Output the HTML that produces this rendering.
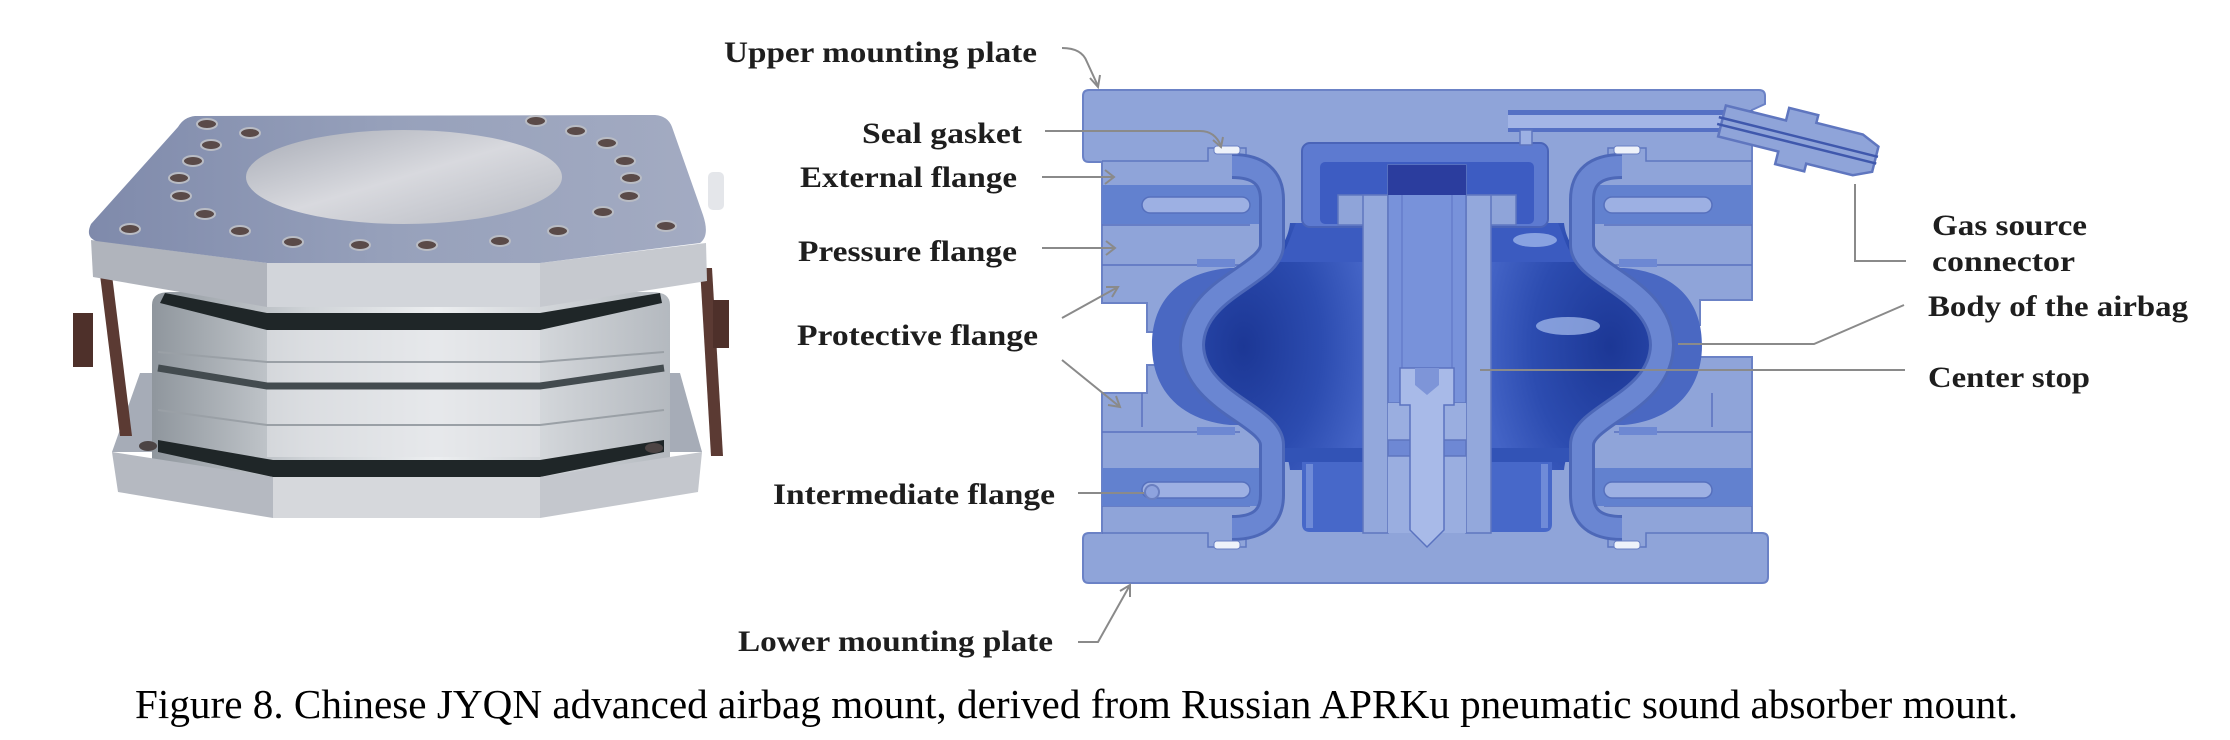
<!DOCTYPE html>
<html><head><meta charset="utf-8">
<style>
html,body{margin:0;padding:0;background:#fff;}
body{width:2230px;height:740px;overflow:hidden;}
svg{display:block;}
</style></head><body>
<svg width="2230" height="740" viewBox="0 0 2230 740" xmlns="http://www.w3.org/2000/svg">
<defs>
  <linearGradient id="topFace" x1="0" y1="0" x2="1" y2="0">
    <stop offset="0" stop-color="#7f8aab"/>
    <stop offset="0.5" stop-color="#97a1bb"/>
    <stop offset="1" stop-color="#a3abc2"/>
  </linearGradient>
  <linearGradient id="disc" x1="0" y1="0" x2="1" y2="1">
    <stop offset="0" stop-color="#a8acb6"/>
    <stop offset="0.5" stop-color="#d8d9de"/>
    <stop offset="1" stop-color="#b7bac2"/>
  </linearGradient>
  <linearGradient id="ring" x1="0" y1="0" x2="1" y2="0">
    <stop offset="0" stop-color="#8f969d"/>
    <stop offset="0.3" stop-color="#cfd3d7"/>
    <stop offset="0.55" stop-color="#eceef0"/>
    <stop offset="1" stop-color="#b4b9bf"/>
  </linearGradient>
  <radialGradient id="bag" cx="0.25" cy="0.5" r="0.8">
    <stop offset="0" stop-color="#1c3795"/>
    <stop offset="0.6" stop-color="#2c4cb0"/>
    <stop offset="1" stop-color="#4464c6"/>
  </radialGradient>
</defs>

<!-- ================= PHOTO ================= -->
<polygon points="140,373 680,373 702,452 112,452" fill="#a6acb7"/>
<path d="M152,305 Q152,292 170,292 H652 Q670,292 670,305 V462 Q670,478 652,478 H170 Q152,478 152,462 Z" fill="url(#ring)"/>
<polygon points="267,330 540,330 540,457 267,457" fill="#e3e5e8" opacity="0.6"/>
<polygon points="165,293 267,313 540,313 660,293 662,303 540,330 267,330 160,303" fill="#1f2628"/>
<polyline points="158,352 267,362 540,362 664,352" stroke="#9aa0a6" stroke-width="2" fill="none"/>
<polyline points="158,368 267,386 540,386 664,368" stroke="#434b4f" stroke-width="7" fill="none"/>
<polyline points="158,410 267,425 540,425 664,410" stroke="#9aa0a6" stroke-width="2" fill="none"/>
<polygon points="158,440 273,460 540,460 664,440 664,452 540,477 273,477 158,452" fill="#1f2628"/>
<polygon points="112,452 273,477 273,518 118,492" fill="#b5b9c1"/>
<polygon points="273,477 540,477 540,518 273,518" fill="#d6d8dc"/>
<polygon points="540,477 702,452 698,492 540,518" fill="#c4c7cd"/>
<ellipse cx="148" cy="446" rx="9" ry="5" fill="#4c4444"/>
<ellipse cx="654" cy="448" rx="9" ry="5" fill="#4c4444"/>
<polygon points="100,275 112,275 132,436 120,436" fill="#5b3a33"/>
<rect x="73" y="313" width="20" height="54" fill="#4e302a"/>
<polygon points="700,268 712,268 723,456 711,456" fill="#5b3a33"/>
<rect x="713" y="300" width="16" height="48" fill="#4e302a"/>
<polygon points="91,240 267,263 267,307 93,277" fill="#b0b4bc"/>
<polygon points="267,263 540,263 540,307 267,307" fill="#d2d5da"/>
<polygon points="540,263 706,243 707,281 540,307" fill="#c6c9cf"/>
<path d="M195,116 L655,115 Q668,116 672,127 L703,215 Q710,236 700,243 L540,263 L267,263 L96,241 Q85,237 91,224 L178,127 Q184,117 195,116 Z" fill="url(#topFace)"/>
<ellipse cx="404" cy="177" rx="158" ry="47" fill="url(#disc)"/>
<g fill="#5a4a48" stroke="#b9bcc4" stroke-width="2">
  <ellipse cx="211" cy="145" rx="10" ry="5"/><ellipse cx="193" cy="161" rx="10" ry="5"/>
  <ellipse cx="179" cy="178" rx="10" ry="5"/><ellipse cx="181" cy="196" rx="10" ry="5"/>
  <ellipse cx="205" cy="214" rx="10" ry="5"/><ellipse cx="240" cy="231" rx="10" ry="5"/>
  <ellipse cx="130" cy="229" rx="10" ry="5"/><ellipse cx="293" cy="242" rx="10" ry="5"/>
  <ellipse cx="360" cy="245" rx="10" ry="5"/><ellipse cx="427" cy="245" rx="10" ry="5"/>
  <ellipse cx="500" cy="241" rx="10" ry="5"/><ellipse cx="558" cy="231" rx="10" ry="5"/>
  <ellipse cx="603" cy="212" rx="10" ry="5"/><ellipse cx="629" cy="196" rx="10" ry="5"/>
  <ellipse cx="631" cy="178" rx="10" ry="5"/><ellipse cx="625" cy="161" rx="10" ry="5"/>
  <ellipse cx="607" cy="143" rx="10" ry="5"/><ellipse cx="576" cy="131" rx="10" ry="5"/>
  <ellipse cx="536" cy="121" rx="10" ry="5"/><ellipse cx="207" cy="124" rx="10" ry="5"/>
  <ellipse cx="250" cy="133" rx="10" ry="5"/><ellipse cx="666" cy="226" rx="10" ry="5"/>
</g>
<rect x="708" y="172" width="16" height="38" rx="5" fill="#e4e6ea"/>

<!-- ================= DIAGRAM ================= -->
<path d="M1089,90 H1759 Q1765,90 1765,96 V104 L1752,110 V300 H1700 V325 H1680 V357 H1752 V533 H1762 Q1768,533 1768,539 V577 Q1768,583 1762,583 H1089 Q1083,583 1083,577 V539 Q1083,533 1089,533 H1102 V393 H1147 V365 H1172 V332 H1147 V303 H1102 V162 H1089 Q1083,162 1083,156 V96 Q1083,90 1089,90 Z" fill="#8fa4d9" stroke="#6b82c6" stroke-width="2"/>

<g stroke="#5f76bf" stroke-width="1.5" fill="none">
  <path d="M1102,161 H1208 V148 H1246 V161 H1262"/>
  <path d="M1592,161 H1608 V148 H1646 V161 H1752"/>
  <path d="M1102,533 H1208 V547 H1246 V533 H1262"/>
  <path d="M1592,533 H1608 V547 H1646 V533 H1752"/>
</g>

<g id="lf">
  <rect x="1102" y="185" width="162" height="39" fill="#6281cf"/>
  <rect x="1142" y="197" width="108" height="16" rx="8" fill="#9db0e3" stroke="#5670bd" stroke-width="1.5"/>
  <path d="M1102,225 H1250 M1102,265 H1240 M1102,432 H1240 M1102,506 H1250" stroke="#5a72bf" stroke-width="1.5"/>
  <rect x="1197" y="259" width="38" height="8" fill="#6d88d3"/>
  <rect x="1197" y="427" width="38" height="8" fill="#6d88d3"/>
  <rect x="1102" y="468" width="162" height="38" fill="#6281cf"/>
  <rect x="1142" y="482" width="108" height="16" rx="8" fill="#9db0e3" stroke="#5670bd" stroke-width="1.5"/>
  <path d="M1142,393 V427" stroke="#5a72bf" stroke-width="1.5"/>
  <path d="M1152,345 C1152,300 1180,272 1230,268 L1260,268 C1240,290 1185,300 1181,345 C1185,390 1240,400 1260,425 L1230,425 C1180,420 1152,390 1152,345 Z" fill="#4a68c2"/>
  <path d="M1290,223 H1365 V470 H1290 C1288,452 1280,440 1262,430 C1225,410 1205,392 1203,345 C1205,298 1225,280 1262,262 C1280,252 1288,240 1290,223 Z" fill="url(#bag)"/>
  <path d="M1296,223 H1365 V262 H1276 C1288,250 1290,236 1296,223 Z" fill="#3b5bc0"/>
  <rect x="1283" y="448" width="82" height="14" fill="#3253b6"/>
  <path d="M1302,462 H1365 V532 H1310 Q1302,532 1302,524 Z" fill="#4768c9"/>
  <rect x="1306" y="464" width="7" height="64" fill="#6f8bd8"/>
  <path d="M1232,166 Q1272,166 1272,200 V245 C1272,275 1193,288 1192,345 C1193,402 1272,415 1272,445 V495 Q1272,528 1232,528" stroke="#4d68b8" stroke-width="26" fill="none"/>
  <path d="M1232,166 Q1272,166 1272,200 V245 C1272,275 1193,288 1192,345 C1193,402 1272,415 1272,445 V495 Q1272,528 1232,528" stroke="#6a86d2" stroke-width="20" fill="none"/>
  <rect x="1214" y="146" width="26" height="8" rx="3" fill="#eef2fa" stroke="#6a80c4"/>
  <rect x="1214" y="541" width="26" height="8" rx="3" fill="#eef2fa" stroke="#6a80c4"/>
</g>
<use href="#lf" transform="matrix(-1 0 0 1 2854 0)"/>

<ellipse cx="1535" cy="240" rx="22" ry="7" fill="#a9c0f0" opacity="0.7"/>
<ellipse cx="1568" cy="326" rx="32" ry="9" fill="#a9c0f0" opacity="0.7"/>

<rect x="1302" y="143" width="246" height="84" rx="8" fill="#5d7ad0" stroke="#4a64b8" stroke-width="2"/>
<rect x="1320" y="162" width="214" height="62" rx="5" fill="#3d5cc2"/>
<rect x="1338" y="195" width="178" height="30" fill="#8fa4d9" stroke="#5f76bf" stroke-width="1.5"/>
<rect x="1363" y="195" width="25" height="338" fill="#93a8dc" stroke="#5f76bf" stroke-width="1.5"/>
<rect x="1466" y="195" width="25" height="338" fill="#93a8dc" stroke="#5f76bf" stroke-width="1.5"/>
<rect x="1388" y="165" width="78" height="238" fill="#7892da" stroke="#5f76bf" stroke-width="1.5"/>
<rect x="1388" y="165" width="78" height="30" fill="#2b3d9e"/>
<path d="M1402,195 V403 M1452,195 V403" stroke="#6a82cf" stroke-width="2"/>
<rect x="1388" y="403" width="78" height="130" fill="#9aaee0"/>
<rect x="1388" y="440" width="78" height="16" fill="#6e88d4" stroke="#5f76bf" stroke-width="1.5"/>
<path d="M1400,368 H1454 V405 H1444 V530 L1427,547 L1410,530 V405 H1400 Z" fill="#a8bae8" stroke="#5a72c0" stroke-width="1.5"/>
<path d="M1415,368 V385 L1427,395 L1439,385 V368 Z" fill="#7e95d8"/>

<rect x="1508" y="110" width="244" height="22" fill="#5570c4"/>
<rect x="1508" y="115" width="244" height="13" fill="#a3b5e6"/>
<rect x="1520" y="130" width="12" height="15" fill="#9cb0e3" stroke="#5f76bf" stroke-width="1.5"/>

<g transform="translate(1722,121) rotate(14)">
  <path d="M0,-16 H62 V-29 H92 V-21 H140 L158,-13 V13 L140,21 H92 V29 H62 V16 H0 Z" fill="#8fa4d9" stroke="#5f76bf" stroke-width="2.5"/>
  <path d="M-4,-3 H160 M-4,4 H160" stroke="#3f58ad" stroke-width="2.5"/>
</g>

<g stroke="#8a8a8a" stroke-width="2" fill="none">
  <path d="M1062,48 Q1082,48 1087,62 L1098,86"/>
  <path d="M1090,78 L1098,87 L1100,75"/>
  <path d="M1045,131 H1200 Q1215,131 1221,146"/>
  <path d="M1213,140 L1221,147 L1223,137"/>
  <path d="M1042,177 H1113 M1105,170 L1114,177 L1105,184"/>
  <path d="M1042,248 H1115 M1106,241 L1115,248 L1106,255"/>
  <path d="M1062,318 L1118,287 M1112,297 L1118,287 L1106,287"/>
  <path d="M1062,360 L1120,407 M1108,405 L1120,407 L1116,396"/>
  <path d="M1078,493 H1145"/>
  <path d="M1078,642 H1098 L1130,585 M1120,591 L1130,585 L1130,597"/>
  <path d="M1904,305 L1814,344 H1678"/>
  <path d="M1905,370 H1480"/>
  <path d="M1855,184 V261 H1906"/>
</g>
<circle cx="1152" cy="492" r="7" fill="#8ea3de" stroke="#6a7fc0" stroke-width="2"/>

<g font-family="'Liberation Serif', serif" font-weight="bold" font-size="30" fill="#1e1e1e">
  <text x="724" y="62" textLength="313" lengthAdjust="spacingAndGlyphs">Upper mounting plate</text>
  <text x="862" y="143" textLength="160" lengthAdjust="spacingAndGlyphs">Seal gasket</text>
  <text x="800" y="187" textLength="217" lengthAdjust="spacingAndGlyphs">External flange</text>
  <text x="798" y="261" textLength="219" lengthAdjust="spacingAndGlyphs">Pressure flange</text>
  <text x="797" y="345" textLength="241" lengthAdjust="spacingAndGlyphs">Protective flange</text>
  <text x="773" y="504" textLength="282" lengthAdjust="spacingAndGlyphs">Intermediate flange</text>
  <text x="738" y="651" textLength="315" lengthAdjust="spacingAndGlyphs">Lower mounting plate</text>
  <text x="1932" y="235" textLength="155" lengthAdjust="spacingAndGlyphs">Gas source</text>
  <text x="1932" y="271" textLength="143" lengthAdjust="spacingAndGlyphs">connector</text>
  <text x="1928" y="316" textLength="260" lengthAdjust="spacingAndGlyphs">Body of the airbag</text>
  <text x="1928" y="387" textLength="162" lengthAdjust="spacingAndGlyphs">Center stop</text>
</g>

<text x="135" y="718" font-family="'Liberation Serif', serif" font-size="41" fill="#000" textLength="1883" lengthAdjust="spacingAndGlyphs">Figure 8. Chinese JYQN advanced airbag mount, derived from Russian APRKu pneumatic sound absorber mount.</text>
</svg>
</body></html>
